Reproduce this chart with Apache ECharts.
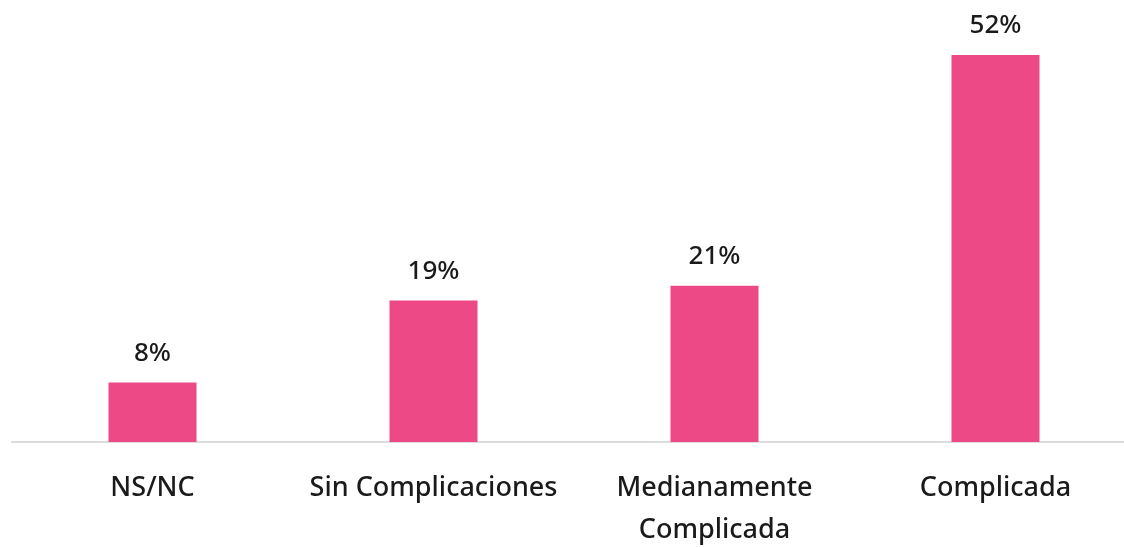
<!DOCTYPE html>
<html>
<head>
<meta charset="utf-8">
<script src="https://cdn.jsdelivr.net/npm/echarts@6/dist/echarts.min.js"></script>
<style>
  html, body { margin: 0; padding: 0; background: #fff; }
  #chart { width: 1124px; height: 547px; }
</style>
</head>
<body>
<div id="chart"></div>
<script>
// categorias y valores
var categorias = ['NS/NC', 'Sin Complicaciones', 'Medianamente\nComplicada', 'Complicada'];
var valores = [8, 19, 21, 52];

var myChart = echarts.init(document.getElementById('chart'));

var option = {
    animation: false,
    grid: {
        left: 12,
        right: -12,
        top: 55,
        bottom: 105,
        outerBoundsMode: 'none'
    },
    xAxis: {
        type: 'category',
        data: categorias,
        axisLine: { lineStyle: { color: '#dcdcdc', width: 2 } },
        axisTick: { show: false },
        axisLabel: {
            interval: 0,
            margin: 25,
            color: '#1a1a1a',
            fontFamily: 'Noto Sans',
            fontWeight: 500,
            fontSize: 27,
            lineHeight: 42
        }
    },
    yAxis: {
        type: 'value',
        min: 0,
        max: 52,
        show: false,
        splitLine: { show: false }
    },
    series: [
        {
            type: 'bar',
            data: valores,
            barWidth: 88,
            itemStyle: { color: '#ee4987' },
            label: {
                show: true,
                position: 'top',
                distance: 16,
                formatter: '{c}%',
                color: '#1a1a1a',
                fontFamily: 'Noto Sans',
                fontWeight: 500,
                fontSize: 26
            }
        }
    ]
};

myChart.setOption(option);
</script>
</body>
</html>
